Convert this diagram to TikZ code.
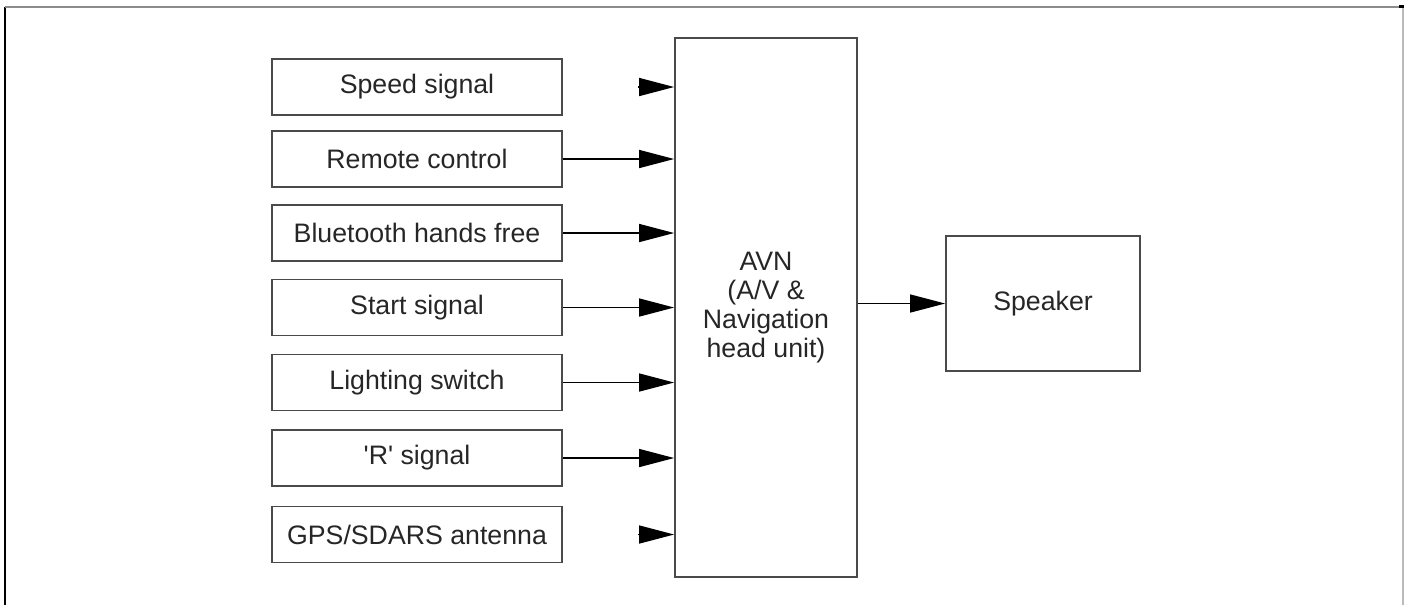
\documentclass[tikz,border=0pt]{standalone}
\usepackage{fontspec}
\setmainfont{Liberation Sans}
\usetikzlibrary{calc,arrows.meta,positioning}
\definecolor{linex}{HTML}{4A4A4A}
\definecolor{textx}{HTML}{262626}
\definecolor{framex}{HTML}{8C8C8C}
\tikzset{
  inbox/.style={draw=linex,line width=0.5pt,minimum width=2.9cm,minimum height=0.56cm,inner sep=0pt,font=\fontsize{7.6}{9.4}\selectfont,text=textx},
  unitbox/.style={draw=linex,line width=0.5pt,inner sep=0pt,align=center,font=\fontsize{7.6}{8.2}\selectfont,text=textx},
  ar/.style={-{Triangle[length=3.5mm,width=1.8mm]},line width=0.4pt,black}
}
\begin{document}
\begin{tikzpicture}
\useasboundingbox (0,0) rectangle (14.07,-6.05);
% frame
\draw[black,line width=0.6pt] (0.05,-0.07) -- (0.05,-6.05);
\draw[framex,line width=0.5pt] (0.05,-0.07) -- (14.03,-0.07);
\draw[framex!60,line width=0.5pt] (14.03,-0.07) -- (14.03,-6.05);
\draw[black,line width=1pt] (13.99,-0.065) -- (14.04,-0.065);
% units
\node[unitbox,minimum width=1.82cm,minimum height=5.39cm] (avn) at (7.66,-3.075) {AVN\\(A/V \&\\Navigation\\head unit)};
\node[unitbox,minimum width=1.94cm,minimum height=1.35cm] (spk) at (10.43,-3.035) {Speaker};
% inputs
\foreach \yy/\l/\t in {-0.87/1/Speed signal,-1.59/2/Remote control,-2.33/3/Bluetooth hands free,-3.075/4/Start signal,-3.825/5/Lighting switch,-4.58/6/\textquotesingle R\textquotesingle{} signal,-5.345/7/{GPS/SDARS antenna}}{\node[inbox] (in\l) at (4.17,\yy) {\t};}
\foreach \l in {2,...,6}{\draw[ar] (in\l.east) -- (in\l.east -| avn.west);}
% speed signal and antenna: tip only
\foreach \l in {1,7}{\coordinate (tip\l) at ($(in\l.east -| avn.west)+(-0.36,0)$);
  \draw[ar] (tip\l) -- (in\l.east -| avn.west);}
\draw[ar] (avn.east |- spk.west) -- (spk.west);
\end{tikzpicture}
\end{document}
